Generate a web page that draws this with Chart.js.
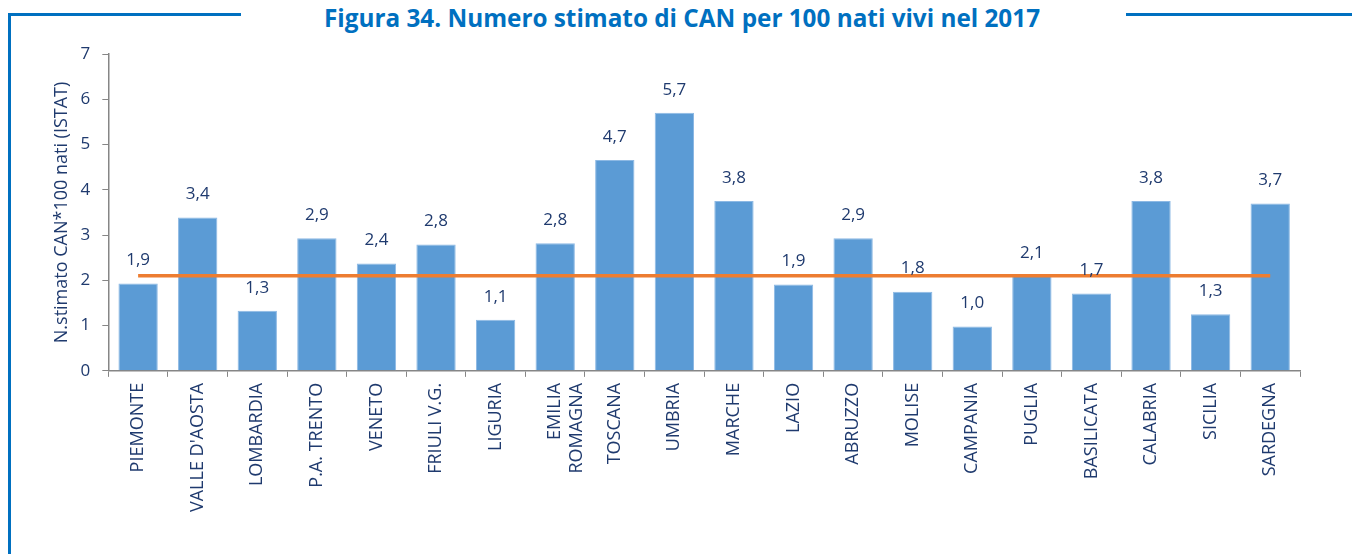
<!DOCTYPE html>
<html>
<head>
<meta charset="utf-8">
<script src="https://cdn.jsdelivr.net/npm/chart.js@4"></script>
<style>
  body { margin: 0; background: #fff; }
  #wrap { position: relative; width: 1352px; height: 554px; overflow: hidden; }
  .rule { position: absolute; background: #0070C0; }
  #title {
    position: absolute; left: 0; width: 1364px; top: 6px; text-align: center;
    font: bold 24.3px/24px 'Open Sans', sans-serif; color: #0070C0; white-space: nowrap;
  }
  canvas { position: absolute; left: 0; top: 0; }
</style>
</head>
<body>
<div id="wrap">
  <div class="rule" style="left:8px;top:13px;width:3px;height:541px"></div>
  <div class="rule" style="left:8px;top:13px;width:233px;height:3px"></div>
  <div class="rule" style="left:1126px;top:13px;width:226px;height:3px"></div>
  <div id="title">Figura 34. Numero stimato di CAN per 100 nati vivi nel 2017</div>
  <canvas id="chart" width="1352" height="554"></canvas>
</div>
<script>
// ── Data ─────────────────────────────────────────────
const regions = [
  'PIEMONTE', "VALLE D'AOSTA", 'LOMBARDIA', 'P.A. TRENTO', 'VENETO',
  'FRIULI V.G.', 'LIGURIA', ['EMILIA', 'ROMAGNA'], 'TOSCANA', 'UMBRIA',
  'MARCHE', 'LAZIO', 'ABRUZZO', 'MOLISE', 'CAMPANIA',
  'PUGLIA', 'BASILICATA', 'CALABRIA', 'SICILIA', 'SARDEGNA'
];
const canValues = [
  1.93, 3.39, 1.33, 2.93, 2.37,
  2.79, 1.13, 2.82, 4.66, 5.70,
  3.75, 1.91, 2.93, 1.75, 0.98,
  2.10, 1.71, 3.75, 1.25, 3.70
];
const italyAvg = regions.map(() => 2.1);
const yTicks = [0, 1, 2, 3, 4, 5, 6, 7];

const NAVY = '#1F3A6E';
const AXIS = '#868686';
const FONT = "'Open Sans', sans-serif";

// ── Value labels above bars ──────────────────────────
const barLabels = {
  id: 'barLabels',
  afterDatasetsDraw(chart) {
    const ctx = chart.ctx;
    const meta = chart.getDatasetMeta(1);
    ctx.save();
    ctx.font = '17px ' + FONT;
    ctx.fillStyle = NAVY;
    ctx.textAlign = 'center';
    ctx.textBaseline = 'middle';
    meta.data.forEach((bar, i) => {
      const txt = canValues[i].toFixed(1).replace('.', ',');
      ctx.fillText(txt, bar.x, bar.y - 23);
    });
    ctx.restore();
  }
};

new Chart(document.getElementById('chart'), {
  data: {
    labels: regions,
    datasets: [
      {
        type: 'line',
        label: 'Italia',
        data: italyAvg,
        borderColor: '#ED7D31',
        borderWidth: 3.5,
        pointRadius: 0,
        order: 0
      },
      {
        type: 'bar',
        label: 'CAN',
        data: canValues,
        backgroundColor: '#5B9BD5',
        borderColor: '#8DB9E4',
        borderWidth: 1,
        barPercentage: 0.66,
        categoryPercentage: 1,
        order: 1
      }
    ]
  },
  options: {
    responsive: false,
    animation: false,
    layout: { padding: { left: 51, right: 52, top: 54, bottom: 36 } },
    plugins: {
      legend: { display: false },
      tooltip: { enabled: false }
    },
    scales: {
      x: {
        grid: { offset: true, drawOnChartArea: false, drawTicks: true, tickLength: 6, color: AXIS },
        border: { display: true, color: AXIS, width: 1.5 },
        ticks: {
          color: NAVY, minRotation: 90, maxRotation: 90, padding: 6,
          autoSkip: false,
          font: { family: FONT, size: 18 }
        }
      },
      y: {
        min: 0, max: 7,
        afterBuildTicks: axis => { axis.ticks = yTicks.map(v => ({ value: v })); },
        grid: { drawOnChartArea: false, drawTicks: true, tickLength: 6, color: AXIS },
        border: { display: true, color: AXIS, width: 1.5 },
        ticks: {
          color: NAVY, padding: 12,
          font: { family: FONT, size: 17 }
        },
        title: {
          display: true, text: 'N.stimato CAN*100 nati (ISTAT)', color: NAVY,
          padding: { top: 0, bottom: -4 },
          font: { family: FONT, size: 18 }
        }
      }
    }
  },
  plugins: [barLabels]
});
</script>
</body>
</html>
